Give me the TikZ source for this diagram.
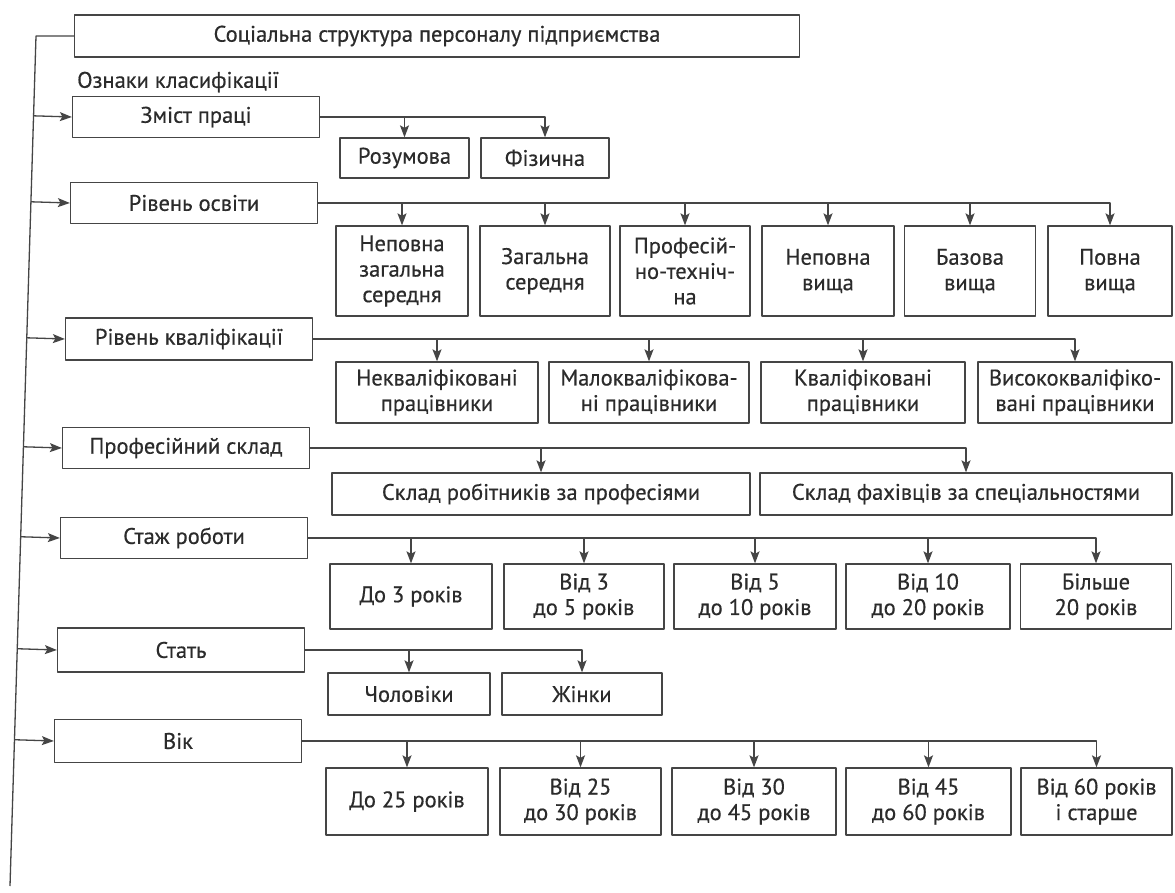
\documentclass[tikz,border=0pt]{standalone}
\usepackage{fontspec}
\setmainfont{PT Sans}[FakeBold=0.45]
\usetikzlibrary{arrows.meta,calc}
\definecolor{linec}{HTML}{454545}
\definecolor{textc}{HTML}{2B2B2B}
\begin{document}
\begin{tikzpicture}[x=1pt,y=-1pt,>={Stealth[length=12pt,width=9pt,inset=2.5pt]}, line join=round,
	font=\fontsize{22.5}{25.5}\selectfont,
	box/.style={draw=linec, line width=1.3pt, text=textc, align=center, inner sep=1pt},
	cat/.style={box, minimum width=247, minimum height=41},
	link/.style={draw=linec, line width=1.3pt}]
	\fill[white] (0,0) rectangle (1175,893);
	\useasboundingbox (0,0) rectangle (1175,893);
	\coordinate (stop) at (36,36);
	\coordinate (sbot) at (10,886);
	\node[box, minimum width=725, minimum height=42] (title) at (437,36) {Соціальна структура персоналу підприємства};
	\node[text=textc, anchor=west, inner sep=0pt] (signs) at (77,82) {Ознаки класифікації};
	% ознаки
	\node[cat] (zmist) at (196,117) {Зміст праці};
	\node[cat] (osvita) at (194,203) {Рівень освіти};
	\node[cat, minimum height=42] (kval) at (189,339) {Рівень кваліфікації};
	\node[cat] (prof) at (186,448) {Професійний склад};
	\node[cat] (stazh) at (184,538) {Стаж роботи};
	\node[cat, minimum height=44] (stat) at (181,650) {Стать};
	\node[cat, minimum height=43] (vik) at (178,741) {Вік};
	% групи
	\node[box, minimum width=129, minimum height=40] (rozum) at (404.5,158) {Розумова};
	\node[box, minimum width=128, minimum height=40] (fiz) at (545,158) {Фізична};
	\node[box, minimum width=132, minimum height=90] (osv1) at (402,271) {Неповна\\загальна\\середня};
	\node[box, minimum width=130, minimum height=90] (osv2) at (545,271) {Загальна\\середня};
	\node[box, minimum width=130, minimum height=90] (osv3) at (685,271) {Професій-\\но-техніч-\\на};
	\node[box, minimum width=132, minimum height=90] (osv4) at (828,271) {Неповна\\вища};
	\node[box, minimum width=131, minimum height=90] (osv5) at (970,271) {Базова\\вища};
	\node[box, minimum width=124, minimum height=90] (osv6) at (1110,271) {Повна\\вища};
	\node[box, minimum width=202, minimum height=61] (kv1) at (437,392.5) {Некваліфіковані\\працівники};
	\node[box, minimum width=200, minimum height=61] (kv2) at (649,392.5) {Малокваліфікова-\\ні працівники};
	\node[box, minimum width=204, minimum height=61] (kv3) at (863,392.5) {Кваліфіковані\\працівники};
	\node[box, minimum width=194, minimum height=61] (kv4) at (1075,392.5) {Висококваліфіко-\\вані працівники};
	\node[box, minimum width=418, minimum height=42] (pr1) at (541,494) {Склад робітників за професіями};
	\node[box, minimum width=412, minimum height=42] (pr2) at (966,494) {Склад фахівців за спеціальностями};
	\node[box, minimum width=162, minimum height=65] (st1) at (411,596.5) {До 3 років};
	\node[box, minimum width=160, minimum height=65] (st2) at (584,596.5) {Від 3\\до 5 років};
	\node[box, minimum width=162, minimum height=65] (st3) at (755,596.5) {Від 5\\до 10 років};
	\node[box, minimum width=164, minimum height=65] (st4) at (928,596.5) {Від 10\\до 20 років};
	\node[box, minimum width=151, minimum height=65] (st5) at (1096,596.5) {Більше\\20 років};
	\node[box, minimum width=162, minimum height=42] (man) at (409,694) {Чоловіки};
	\node[box, minimum width=160, minimum height=42] (woman) at (582,694) {Жінки};
	\node[box, minimum width=162, minimum height=67] (vk1) at (407,801.5) {До 25 років};
	\node[box, minimum width=161, minimum height=67] (vk2) at (580.5,801.5) {Від 25\\до 30 років};
	\node[box, minimum width=164, minimum height=67] (vk3) at (754,801.5) {Від 30\\до 45 років};
	\node[box, minimum width=165, minimum height=67] (vk4) at (928.5,801.5) {Від 45\\до 60 років};
	\node[box, minimum width=151, minimum height=67] (vk5) at (1096.5,801.5) {Від 60 років\\і старше};
	% лінії
	\draw[link] (sbot) -- (stop) -- (title.west);
	\draw[link,->] ($(stop)!(zmist.west)!(sbot)$) -- (zmist.west);
	\draw[link,->] ($(stop)!(osvita.west)!(sbot)$) -- (osvita.west);
	\draw[link,->] ($(stop)!(kval.west)!(sbot)$) -- (kval.west);
	\draw[link,->] ($(stop)!(prof.west)!(sbot)$) -- (prof.west);
	\draw[link,->] ($(stop)!(stazh.west)!(sbot)$) -- (stazh.west);
	\draw[link,->] ($(stop)!(stat.west)!(sbot)$) -- (stat.west);
	\draw[link,->] ($(stop)!(vik.west)!(sbot)$) -- (vik.west);
	\draw[link,->] (zmist.east) -| (fiz.north);
	\draw[link,->] (zmist.east -| rozum.north) -- (rozum.north);
	\draw[link,->] (osvita.east) -| (osv6.north);
	\draw[link,->] (osvita.east -| osv1.north) -- (osv1.north);
	\draw[link,->] (osvita.east -| osv2.north) -- (osv2.north);
	\draw[link,->] (osvita.east -| osv3.north) -- (osv3.north);
	\draw[link,->] (osvita.east -| osv4.north) -- (osv4.north);
	\draw[link,->] (osvita.east -| osv5.north) -- (osv5.north);
	\draw[link,->] (kval.east) -| (kv4.north);
	\draw[link,->] (kval.east -| kv1.north) -- (kv1.north);
	\draw[link,->] (kval.east -| kv2.north) -- (kv2.north);
	\draw[link,->] (kval.east -| kv3.north) -- (kv3.north);
	\draw[link,->] (prof.east) -| (pr2.north);
	\draw[link,->] (prof.east -| pr1.north) -- (pr1.north);
	\draw[link,->] (stazh.east) -| (st5.north);
	\draw[link,->] (stazh.east -| st1.north) -- (st1.north);
	\draw[link,->] (stazh.east -| st2.north) -- (st2.north);
	\draw[link,->] (stazh.east -| st3.north) -- (st3.north);
	\draw[link,->] (stazh.east -| st4.north) -- (st4.north);
	\draw[link,->] (stat.east) -| (woman.north);
	\draw[link,->] (stat.east -| man.north) -- (man.north);
	\draw[link,->] (vik.east) -| (vk5.north);
	\draw[link,->] (vik.east -| vk1.north) -- (vk1.north);
	\draw[link,->] (vik.east -| vk2.north) -- (vk2.north);
	\draw[link,->] (vik.east -| vk3.north) -- (vk3.north);
	\draw[link,->] (vik.east -| vk4.north) -- (vk4.north);
\end{tikzpicture}
\end{document}
